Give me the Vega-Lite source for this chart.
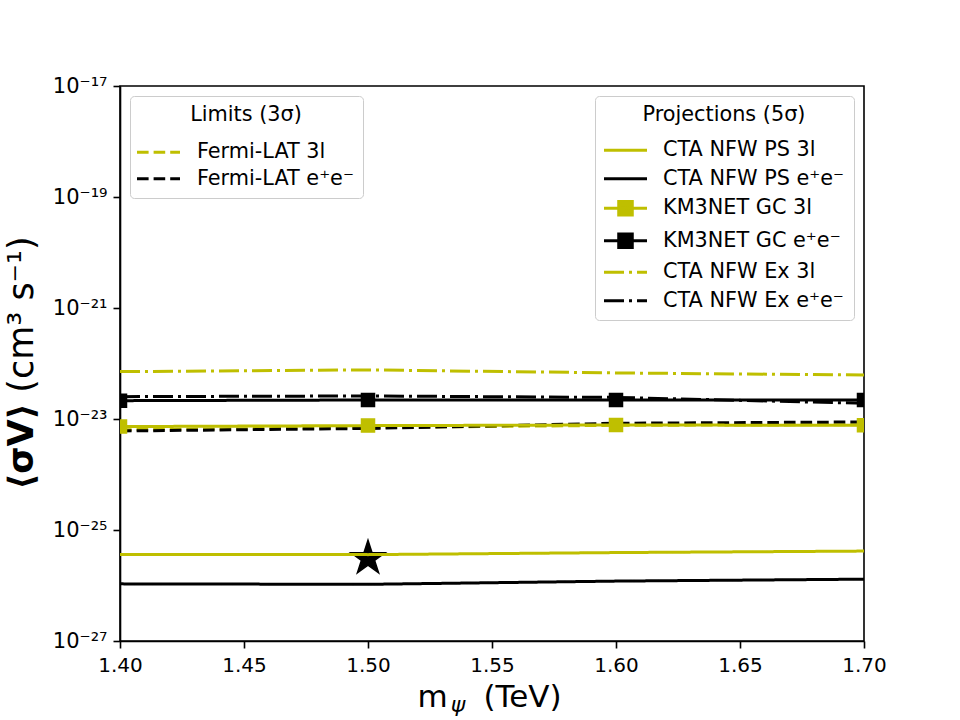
{
  "$schema": "https://vega.github.io/schema/vega-lite/v6.json",
  "width": 744,
  "height": 555,
  "autosize": {"type": "none"},
  "padding": {"left": 120, "top": 86, "right": 96, "bottom": 79},
  "background": "white",
  "config": {
    "font": "DejaVu Sans",
    "view": {"stroke": "black", "strokeWidth": 1.6},
    "axis": {
      "grid": false,
      "domainColor": "black",
      "domainWidth": 1.6,
      "tickColor": "black",
      "tickWidth": 1.6,
      "tickSize": 7,
      "labelColor": "black",
      "titleColor": "black",
      "labelFont": "DejaVu Sans",
      "titleFont": "DejaVu Sans",
      "labelFontSize": 20,
      "titleFontWeight": "normal"
    },
    "legend": {
      "labelFont": "DejaVu Sans",
      "titleFont": "DejaVu Sans",
      "labelColor": "black",
      "titleColor": "black",
      "labelFontSize": 20.8,
      "titleFontSize": 20.8,
      "titleFontWeight": "normal",
      "labelLimit": 400,
      "strokeColor": "#cccccc",
      "fillColor": "white",
      "cornerRadius": 4
    }
  },
  "datasets": {
    "limits": [
      {"series": "Fermi-LAT 3l", "m": 1.4, "sv": 6.4e-24},
      {"series": "Fermi-LAT 3l", "m": 1.5, "sv": 7.0e-24},
      {"series": "Fermi-LAT 3l", "m": 1.6, "sv": 7.7e-24},
      {"series": "Fermi-LAT 3l", "m": 1.7, "sv": 7.9e-24},
      {"series": "Fermi-LAT e⁺e⁻", "m": 1.4, "sv": 6.08e-24},
      {"series": "Fermi-LAT e⁺e⁻", "m": 1.5, "sv": 6.76e-24},
      {"series": "Fermi-LAT e⁺e⁻", "m": 1.6, "sv": 8.38e-24},
      {"series": "Fermi-LAT e⁺e⁻", "m": 1.7, "sv": 8.85e-24}
    ],
    "projections": [
      {"series": "CTA NFW PS 3l", "m": 1.4, "sv": 3.63e-26},
      {"series": "CTA NFW PS 3l", "m": 1.5, "sv": 3.6e-26},
      {"series": "CTA NFW PS 3l", "m": 1.6, "sv": 3.92e-26},
      {"series": "CTA NFW PS 3l", "m": 1.7, "sv": 4.17e-26},
      {"series": "CTA NFW PS e⁺e⁻", "m": 1.4, "sv": 1.07e-26},
      {"series": "CTA NFW PS e⁺e⁻", "m": 1.5, "sv": 1.05e-26},
      {"series": "CTA NFW PS e⁺e⁻", "m": 1.6, "sv": 1.2e-26},
      {"series": "CTA NFW PS e⁺e⁻", "m": 1.7, "sv": 1.3e-26},
      {"series": "KM3NET GC 3l", "m": 1.4, "sv": 7.3e-24},
      {"series": "KM3NET GC 3l", "m": 1.5, "sv": 7.6e-24},
      {"series": "KM3NET GC 3l", "m": 1.6, "sv": 7.8e-24},
      {"series": "KM3NET GC 3l", "m": 1.7, "sv": 7.7e-24},
      {"series": "KM3NET GC e⁺e⁻", "m": 1.4, "sv": 2.14e-23},
      {"series": "KM3NET GC e⁺e⁻", "m": 1.5, "sv": 2.2e-23},
      {"series": "KM3NET GC e⁺e⁻", "m": 1.6, "sv": 2.2e-23},
      {"series": "KM3NET GC e⁺e⁻", "m": 1.7, "sv": 2.2e-23},
      {"series": "CTA NFW Ex 3l", "m": 1.4, "sv": 7.14e-23},
      {"series": "CTA NFW Ex 3l", "m": 1.5, "sv": 7.67e-23},
      {"series": "CTA NFW Ex 3l", "m": 1.6, "sv": 6.76e-23},
      {"series": "CTA NFW Ex 3l", "m": 1.7, "sv": 6.22e-23},
      {"series": "CTA NFW Ex e⁺e⁻", "m": 1.4, "sv": 2.53e-23},
      {"series": "CTA NFW Ex e⁺e⁻", "m": 1.5, "sv": 2.6e-23},
      {"series": "CTA NFW Ex e⁺e⁻", "m": 1.6, "sv": 2.45e-23},
      {"series": "CTA NFW Ex e⁺e⁻", "m": 1.7, "sv": 1.92e-23}
    ],
    "benchmark": [
      {"m": 1.5, "sv": 3.1e-26}
    ]
  },
  "layer": [
    {
      "data": {"name": "limits"},
      "mark": {"type": "line", "strokeWidth": 3, "strokeDash": [11.6, 5], "clip": true},
      "encoding": {
        "x": {
          "field": "m", "type": "quantitative",
          "scale": {"domain": [1.4, 1.7], "nice": false, "zero": false},
          "axis": {
            "orient": "bottom",
            "values": [1.4, 1.45, 1.5, 1.55, 1.6, 1.65, 1.7],
            "format": ".2f",
            "labelPadding": 7,
            "labelFlush": false,
            "title": "m",
            "titleFontSize": 31,
            "titleBaseline": "alphabetic",
            "titleAlign": "center",
            "titleX": 312,
            "titleY": 65
          }
        },
        "y": {
          "field": "sv", "type": "quantitative",
          "scale": {"type": "log", "domain": [1e-27, 1e-17], "nice": false},
          "axis": {
            "orient": "left",
            "values": [1e-27, 1e-25, 1e-23, 1e-21, 1e-19, 1e-17],
            "labelExpr": "'10⁻' + replace(replace(replace(replace(replace(replace(format(-round(log(datum.value) / LN10), 'd'), '1', '¹'), '2', '²'), '3', '³'), '5', '⁵'), '7', '⁷'), '9', '⁹')",
            "labelPadding": 6,
            "labelFlush": false,
            "labelFontSize": 21,
            "title": "(cm³ s⁻¹)",
            "titleFontSize": 35,
            "titleAngle": 270,
            "titleBaseline": "alphabetic",
            "titleAlign": "center",
            "titleX": -88,
            "titleY": 228
          }
        },
        "color": {
          "field": "series", "type": "nominal",
          "scale": {"domain": ["Fermi-LAT 3l", "Fermi-LAT e⁺e⁻"], "range": ["#bfbf00", "#000000"]},
          "legend": {
            "title": "Limits (3σ)",
            "orient": "top-left",
            "offset": 10,
            "padding": 9,
            "titleAnchor": "middle",
            "titlePadding": 14,
            "symbolType": "M-2,0H2",
            "symbolSize": 462,
            "symbolStrokeWidth": 3,
            "symbolDash": [11.6, 5],
            "symbolOffset": 7,
            "labelOffset": 26,
            "rowPadding": 3.5
          }
        }
      }
    },
    {
      "data": {"name": "benchmark"},
      "mark": {
        "type": "point",
        "shape": "M0,-1L0.2245,-0.309L0.9511,-0.309L0.3633,0.118L0.5878,0.809L0,0.382L-0.5878,0.809L-0.3633,0.118L-0.9511,-0.309L-0.2245,-0.309Z",
        "filled": true,
        "color": "black",
        "stroke": "black",
        "strokeWidth": 1.5,
        "opacity": 1,
        "size": 1296
      },
      "encoding": {
        "x": {"field": "m", "type": "quantitative", "scale": {"domain": [1.4, 1.7], "nice": false, "zero": false}, "axis": null},
        "y": {"field": "sv", "type": "quantitative", "scale": {"type": "log", "domain": [1e-27, 1e-17], "nice": false}, "axis": null}
      }
    },
    {
      "data": {"name": "projections"},
      "mark": {"type": "line", "strokeWidth": 3, "clip": true},
      "encoding": {
        "x": {
          "field": "m", "type": "quantitative",
          "scale": {"domain": [1.4, 1.7], "nice": false, "zero": false},
          "axis": {
            "orient": "bottom",
            "labels": false, "ticks": false, "domain": false,
            "title": "ψ",
            "titleFontSize": 22,
            "titleFontStyle": "italic",
            "titleBaseline": "alphabetic",
            "titleAlign": "center",
            "titleX": 337.5,
            "titleY": 70
          }
        },
        "y": {
          "field": "sv", "type": "quantitative",
          "scale": {"type": "log", "domain": [1e-27, 1e-17], "nice": false},
          "axis": {
            "orient": "left",
            "labels": false, "ticks": false, "domain": false,
            "title": "⟨σV⟩",
            "titleFontSize": 35,
            "titleFontWeight": "bold",
            "titleAngle": 270,
            "titleBaseline": "alphabetic",
            "titleAlign": "center",
            "titleX": -88,
            "titleY": 360
          }
        },
        "color": {
          "field": "series", "type": "nominal",
          "scale": {
            "domain": ["CTA NFW PS 3l", "CTA NFW PS e⁺e⁻", "KM3NET GC 3l", "KM3NET GC e⁺e⁻", "CTA NFW Ex 3l", "CTA NFW Ex e⁺e⁻"],
            "range": ["#bfbf00", "#000000", "#bfbf00", "#000000", "#bfbf00", "#000000"]
          },
          "legend": {
            "title": "Projections (5σ)",
            "orient": "top-right",
            "offset": 10,
            "padding": 9,
            "titleAnchor": "middle",
            "titlePadding": 12,
            "symbolSize": 462,
            "symbolStrokeWidth": 3,
            "symbolOffset": 9,
            "labelOffset": 25,
            "rowPadding": 5.5,
            "encode": {
              "symbols": {
                "update": {
                  "shape": {"signal": "indexof(datum.value, 'KM3NET') === 0 ? 'M-2,0H2M-0.63,-0.63H0.63V0.63H-0.63Z' : 'M-2,0H2'"},
                  "fill": {"signal": "datum.value === 'KM3NET GC 3l' ? '#bfbf00' : (datum.value === 'KM3NET GC e⁺e⁻' ? '#000000' : 'transparent')"}
                }
              }
            }
          }
        },
        "strokeDash": {
          "field": "series", "type": "nominal",
          "scale": {
            "domain": ["CTA NFW PS 3l", "CTA NFW PS e⁺e⁻", "KM3NET GC 3l", "KM3NET GC e⁺e⁻", "CTA NFW Ex 3l", "CTA NFW Ex e⁺e⁻"],
            "range": [[1, 0], [1, 0], [1, 0], [1, 0], [20, 5, 3, 5], [20, 5, 3, 5]]
          },
          "legend": {
            "title": "Projections (5σ)",
            "orient": "top-right",
            "offset": 10,
            "padding": 9,
            "titleAnchor": "middle",
            "titlePadding": 12,
            "symbolSize": 462,
            "symbolStrokeWidth": 3,
            "symbolOffset": 9,
            "labelOffset": 25,
            "rowPadding": 5.5,
            "encode": {
              "symbols": {
                "update": {
                  "shape": {"signal": "indexof(datum.value, 'KM3NET') === 0 ? 'M-2,0H2M-0.63,-0.63H0.63V0.63H-0.63Z' : 'M-2,0H2'"},
                  "fill": {"signal": "datum.value === 'KM3NET GC 3l' ? '#bfbf00' : (datum.value === 'KM3NET GC e⁺e⁻' ? '#000000' : 'transparent')"}
                }
              }
            }
          }
        }
      }
    },
    {
      "data": {"name": "projections"},
      "transform": [{"filter": "datum.series === 'KM3NET GC 3l'"}],
      "mark": {"type": "point", "shape": "square", "filled": true, "color": "#bfbf00", "stroke": "#bfbf00", "strokeWidth": 1.5, "opacity": 1, "size": 169, "clip": true},
      "encoding": {
        "x": {
          "field": "m", "type": "quantitative",
          "scale": {"domain": [1.4, 1.7], "nice": false, "zero": false},
          "axis": {
            "orient": "bottom",
            "labels": false, "ticks": false, "domain": false,
            "title": "(TeV)",
            "titleFontSize": 31,
            "titleBaseline": "alphabetic",
            "titleAlign": "center",
            "titleX": 402,
            "titleY": 65
          }
        },
        "y": {"field": "sv", "type": "quantitative", "scale": {"type": "log", "domain": [1e-27, 1e-17], "nice": false}, "axis": null}
      }
    },
    {
      "data": {"name": "projections"},
      "transform": [{"filter": "datum.series === 'KM3NET GC e⁺e⁻'"}],
      "mark": {"type": "point", "shape": "square", "filled": true, "color": "#000000", "stroke": "#000000", "strokeWidth": 1.5, "opacity": 1, "size": 169, "clip": true},
      "encoding": {
        "x": {"field": "m", "type": "quantitative", "scale": {"domain": [1.4, 1.7], "nice": false, "zero": false}, "axis": null},
        "y": {"field": "sv", "type": "quantitative", "scale": {"type": "log", "domain": [1e-27, 1e-17], "nice": false}, "axis": null}
      }
    }
  ],
  "resolve": {
    "scale": {"color": "independent", "strokeDash": "independent"},
    "axis": {"x": "independent", "y": "independent"}
  }
}
